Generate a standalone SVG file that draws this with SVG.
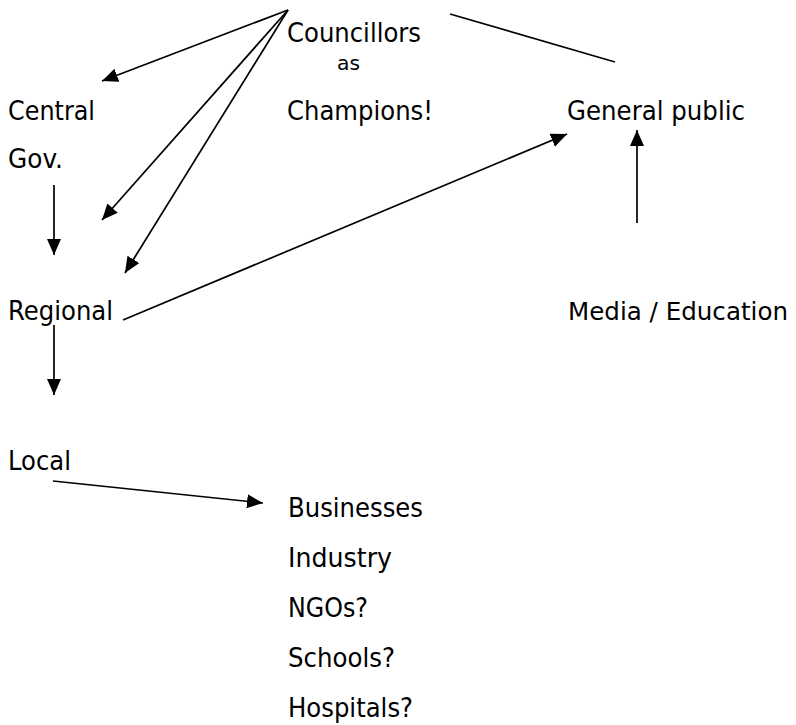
<svg xmlns="http://www.w3.org/2000/svg" width="796" height="725" viewBox="0 0 796 725">
<style>
text{font-family:"DejaVu Sans","Liberation Sans",sans-serif;font-size:27px;fill:#000}
.sm{font-size:19px}
.m{font-size:25px}
.c{stroke:#000;stroke-width:1.7;fill:none}
</style>
<defs>
<marker id="a" markerUnits="userSpaceOnUse" markerWidth="18" markerHeight="16" refX="16" refY="7.5" orient="auto">
<path d="M0,0.5 L16,7.5 L0,14.5 z" fill="#000"/>
</marker>
</defs>
<rect width="796" height="725" fill="#fff"/>
<g id="connectors">
<line class="c" x1="288" y1="10" x2="102" y2="81" marker-end="url(#a)"/>
<line class="c" x1="288" y1="10" x2="102" y2="220" marker-end="url(#a)"/>
<line class="c" x1="288" y1="10" x2="125" y2="273" marker-end="url(#a)"/>
<line class="c" x1="54" y1="185" x2="54" y2="255" marker-end="url(#a)"/>
<line class="c" x1="123" y1="320" x2="567" y2="134" marker-end="url(#a)"/>
<line class="c" x1="450" y1="14" x2="615" y2="62"/>
<line class="c" x1="637" y1="223" x2="637" y2="130" marker-end="url(#a)"/>
<line class="c" x1="54" y1="325" x2="54" y2="395" marker-end="url(#a)"/>
<line class="c" x1="53" y1="481" x2="263" y2="503" marker-end="url(#a)"/>
</g>
<g id="councillors">
<text x="287" y="42" textLength="134" lengthAdjust="spacingAndGlyphs">Councillors</text>
<text class="sm" x="337" y="70" textLength="23" lengthAdjust="spacingAndGlyphs">as</text>
<text x="287" y="120" textLength="146" lengthAdjust="spacingAndGlyphs">Champions!</text>
</g>
<g id="central">
<text x="8" y="120" textLength="87" lengthAdjust="spacingAndGlyphs">Central</text>
<text x="8" y="168" textLength="55" lengthAdjust="spacingAndGlyphs">Gov.</text>
</g>
<g id="regional"><text x="8" y="320" textLength="105" lengthAdjust="spacingAndGlyphs">Regional</text></g>
<g id="local"><text x="8" y="470" textLength="63" lengthAdjust="spacingAndGlyphs">Local</text></g>
<g id="general-public"><text x="567" y="120" textLength="178" lengthAdjust="spacingAndGlyphs">General public</text></g>
<g id="media"><text class="m" x="568" y="320" textLength="220" lengthAdjust="spacingAndGlyphs">Media / Education</text></g>
<g id="stakeholders">
<text x="288" y="517" textLength="135" lengthAdjust="spacingAndGlyphs">Businesses</text>
<text x="288" y="567" textLength="104" lengthAdjust="spacingAndGlyphs">Industry</text>
<text x="288" y="617" textLength="80" lengthAdjust="spacingAndGlyphs">NGOs?</text>
<text x="288" y="667" textLength="107" lengthAdjust="spacingAndGlyphs">Schools?</text>
<text x="288" y="717" textLength="125" lengthAdjust="spacingAndGlyphs">Hospitals?</text>
</g>
</svg>
